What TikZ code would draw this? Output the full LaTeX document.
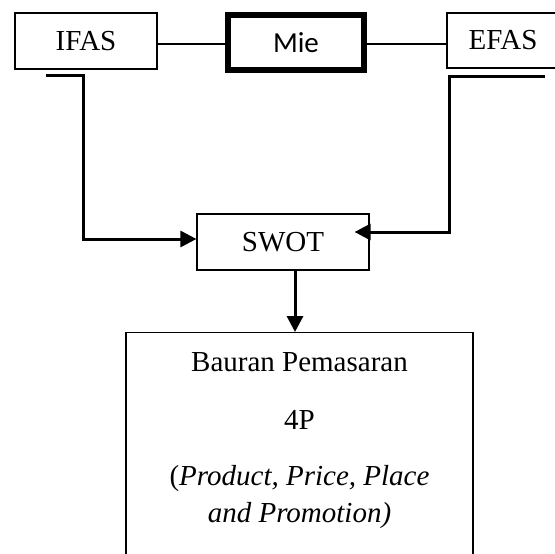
\documentclass[tikz,border=0pt]{standalone}
\usepackage{fontspec}
\setmainfont{Liberation Serif}
\newfontfamily\miefont{Carlito}
\usetikzlibrary{arrows.meta,positioning}

\begin{document}
\begin{tikzpicture}[x=1pt,y=-1pt,
  box/.style={draw,line width=1.2pt,inner sep=0pt,font=\fontsize{29}{35}\selectfont},
  flow/.style={line width=3pt,-{Triangle[length=16pt,width=16pt]}},
  link/.style={line width=1.2pt}]
\useasboundingbox (0,0) rectangle (555,554);
% top row
\node[box,minimum width=142,minimum height=56] (ifas) at (86,41) {IFAS};
\node[box,line width=5.5pt,minimum width=136,minimum height=55,font=\fontsize{29}{35}\miefont] (mie) at (296,42.5) {Mie};
\node[box,minimum width=112,minimum height=55] (efas) at (503,40.5) {EFAS};
\draw[link] ([yshift=-3pt]ifas.east) -- ([yshift=-3pt]ifas.east -| mie.west);
\draw[link] ([yshift=-1.5pt]mie.east) -- ([yshift=-1.5pt]mie.east -| efas.west);
% analysis box
\node[box,minimum width=172,minimum height=56] (swot) at (283,242) {SWOT};
% feet of the two connectors
\coordinate (ifasfoot) at (46,75);
\coordinate (ifasbend) at (83,75);
\coordinate (efasfoot) at (545,76);
\coordinate (efasbend) at (449,76);
\draw[flow] (ifasfoot) -- (ifasbend) |- ([yshift=3pt]swot.west);
\draw[flow] (efasfoot) -- (efasbend) |- ([xshift=-15pt,yshift=10pt]swot.east);
% marketing mix box, runs off the bottom
\node[box,minimum width=347,minimum height=260,anchor=north] (mix) at (299.5,332) {};
\node[align=center,inner sep=0pt,anchor=north,font=\fontsize{29}{37}\selectfont] (mixtext) at (299.5,352)
  {Bauran Pemasaran\\[21pt] 4P\\[19pt] (\textit{Product, Price, Place}\\ \textit{and Promotion)}};
\draw[flow] ([xshift=12pt]swot.south) -- ([xshift=12pt]swot.south |- mix.north);
\end{tikzpicture}
\end{document}
